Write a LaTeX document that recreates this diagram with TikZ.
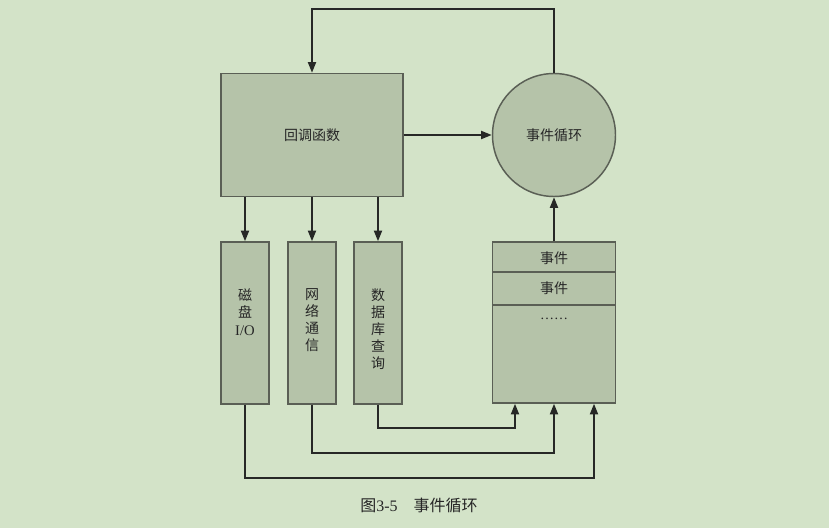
\documentclass[tikz,border=0pt]{standalone}
\usepackage{fontspec}
\setmainfont{Liberation Serif}
\newfontfamily\cjk{Noto Sans CJK SC}
\usetikzlibrary{arrows.meta,calc}
\definecolor{bgc}{HTML}{D3E3C8}
\definecolor{boxc}{HTML}{B5C3A9}
\definecolor{edgec}{HTML}{5A5F55}
\definecolor{linec}{HTML}{262826}
\tikzset{
  blk/.style={draw=edgec,line width=1.1pt,fill=boxc,inner sep=0pt},
  conn/.style={draw=linec,line width=1.4pt,-{Triangle[length=8pt,width=6pt]}},
  txt/.style={font=\cjk\fontsize{10.5pt}{12.8pt}\selectfont,text=black!85,align=center,inner sep=0pt},
}
\begin{document}
\begin{tikzpicture}[x=0.75pt,y=-0.75pt]
\useasboundingbox[fill=bgc] (0,0) rectangle (829,528);
% main nodes
\node[blk,minimum width=136.5pt,minimum height=92.25pt] (cb) at (312,135) {};
\node[txt] at (cb.center) {回调函数};
\node[blk,circle,minimum size=92.25pt] (loop) at (554,135) {};
\node[txt] at (loop.center) {事件循环};
% columns
\node[blk,minimum width=36pt,minimum height=121.5pt] (disk) at (245,323) {};
\node[blk,minimum width=36pt,minimum height=121.5pt] (net) at (312,323) {};
\node[blk,minimum width=36pt,minimum height=121.5pt] (db) at (378,323) {};
\node[txt,anchor=north] (disktxt) at (245,288) {磁\\盘\\[1pt]{\rmfamily\fontsize{11pt}{12pt}\selectfont I/O}};
\node[txt,anchor=north] (nettxt) at (312,288) {网\\络\\通\\信};
\node[txt,anchor=north] (dbtxt) at (378,288) {数\\据\\库\\查\\询};
% event stack
\node[blk,minimum width=92.25pt,minimum height=120.75pt] (ev) at (554,322.5) {};
\coordinate (d1) at (493,272);
\coordinate (d2) at (493,305);
\draw[edgec,line width=1.1pt] (d1 -| ev.west) -- (d1 -| ev.east);
\draw[edgec,line width=1.1pt] (d2 -| ev.west) -- (d2 -| ev.east);
\node[txt] (e1) at (554,258.5) {事件};
\node[txt] (e2) at (554,288.5) {事件};
\node[txt] (e3) at (554,319) {{\rmfamily ……}};
% connectors
\coordinate (top) at (554,9);
\draw[conn] (loop.north) -- (top) -| (cb.north);
\draw[conn] (cb.east) -- (loop.west);
\draw[conn] (cb.south -| disk) -- (disk.north);
\draw[conn] (cb.south -| net) -- (net.north);
\draw[conn] (cb.south -| db) -- (db.north);
\draw[conn] (ev.north) -- (loop.south);
\coordinate (b1) at (515,428);
\coordinate (b2) at (554,453);
\coordinate (b3) at (594,478);
\draw[conn] (db.south) |- (b1) -- (b1 |- ev.south);
\draw[conn] (net.south) |- (b2) -- (b2 |- ev.south);
\draw[conn] (disk.south) |- (b3) -- (b3 |- ev.south);
% caption
\node[font=\fontsize{12pt}{14pt}\selectfont,text=black!85,inner sep=0pt] (cap) at (419,505) {{\cjk 图}3-5\hspace{1em}{\cjk 事件循环}};
\end{tikzpicture}
\end{document}
